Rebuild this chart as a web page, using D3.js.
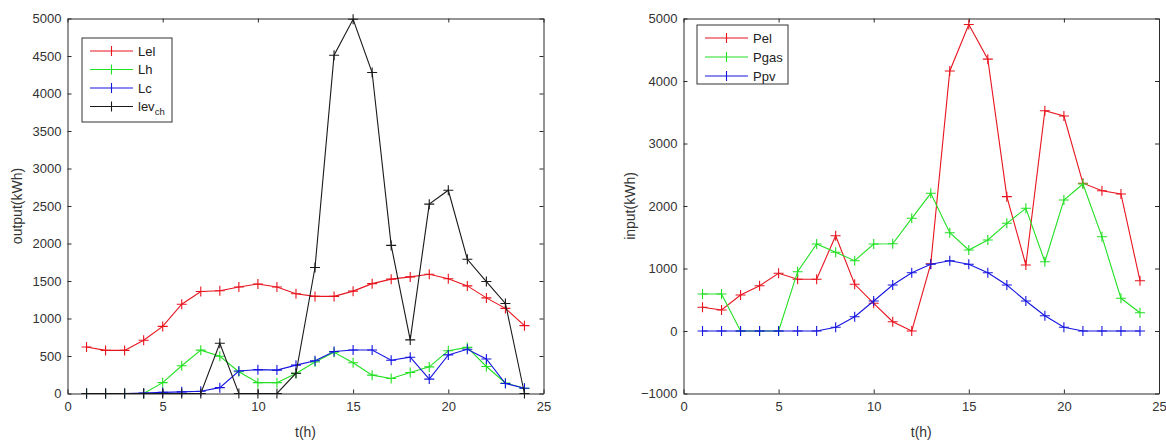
<!DOCTYPE html>
<html>
<head>
<meta charset="utf-8">
<script src="https://cdn.jsdelivr.net/npm/d3@7"></script>
<style>
  body { margin: 0; background: #fff; }
  svg { display: block; font-family: "Liberation Sans", Arial, sans-serif; }
  .axis path, .axis line { stroke: #2b2b2b; }
  .axis text { fill: #333; font-size: 13px; font-family: "Liberation Sans", Arial, sans-serif; }
</style>
</head>
<body>
<svg id="chart" width="1166" height="441"></svg>
<script>
// hours 1..24
var hours = d3.range(1, 25);

// left panel: output
var Lel = [620, 575, 575, 710, 895, 1190, 1360, 1370, 1420, 1460, 1420, 1330,
           1295, 1295, 1365, 1465, 1525, 1555, 1590, 1530, 1435, 1275, 1135, 905];
var Lh = [0, 0, 0, 0, 145, 370, 578, 497, 290, 145, 145, 268,
          420, 550, 410, 245, 200, 280, 355, 570, 615, 360, 140, 70];
var Lc = [0, 0, 0, 5, 15, 22, 30, 78, 300, 318, 312, 378,
          437, 560, 580, 580, 444, 484, 192, 515, 590, 460, 133, 70];
var lev_ch = [0, 0, 0, 0, 0, 0, 0, 670, 0, 0, 0, 270,
              1680, 4510, 4990, 4280, 1975, 715, 2525, 2710, 1790, 1493, 1200, 0];

// right panel: input
var Pel = [380, 336, 576, 725, 923, 827, 827, 1525, 747, 443, 149, 0,
           1075, 4160, 4905, 4350, 2150, 1056, 3525, 3440, 2365, 2245, 2192, 805];
var Pgas = [592, 592, 0, 0, 0, 949, 1392, 1259, 1125, 1392, 1395, 1803,
            2203, 1573, 1296, 1456, 1723, 1963, 1109, 2096, 2352, 1509, 523, 293];
var Ppv = [0, 0, 0, 0, 0, 0, 0, 59, 229, 480, 736, 933,
           1067, 1125, 1067, 933, 736, 480, 245, 59, 0, 0, 0, 0];

var xTicks = [0, 5, 10, 15, 20, 25];
var yTicksLeft = d3.range(0, 5001, 500);
var yTicksRight = [-1000, 0, 1000, 2000, 3000, 4000, 5000];

var colors = { red: "#e8141e", green: "#22e022", blue: "#1515e0", black: "#1a1a1a" };

var svg = d3.select("#chart");
var fmt = d3.format("d");

function panel(opts) {
  var x = d3.scaleLinear().domain([0, 25]).range([opts.left, opts.right]);
  var y = d3.scaleLinear().domain(opts.yDomain).range([393.5, 18.5]);
  var g = svg.append("g");

  // box axes, ticks inward
  g.append("g").attr("class", "axis").attr("transform", "translate(0,393.5)")
    .call(d3.axisBottom(x).tickValues(xTicks).tickFormat(fmt).tickSizeInner(-4).tickSizeOuter(0).tickPadding(8));
  g.append("g").attr("class", "axis").attr("transform", "translate(0,18.5)")
    .call(d3.axisTop(x).tickValues(xTicks).tickSizeInner(-4).tickSizeOuter(0).tickFormat(""));
  g.append("g").attr("class", "axis").attr("transform", "translate(" + opts.left + ",0)")
    .call(d3.axisLeft(y).tickValues(opts.yTicks).tickFormat(fmt).tickSizeInner(-4).tickSizeOuter(0).tickPadding(6));
  g.append("g").attr("class", "axis").attr("transform", "translate(" + opts.right + ",0)")
    .call(d3.axisRight(y).tickValues(opts.yTicks).tickSizeInner(-4).tickSizeOuter(0).tickFormat(""));
  g.selectAll(".axis .domain").attr("stroke-width", 1);

  var line = d3.line().x(function (d, i) { return x(hours[i]); }).y(function (d) { return y(d); });

  opts.series.forEach(function (s) {
    g.append("path").datum(s.values)
      .attr("fill", "none").attr("stroke", s.color).attr("stroke-width", 1.1)
      .attr("d", line);
    g.selectAll(null).data(s.values).enter().append("path")
      .attr("fill", "none").attr("stroke", s.color).attr("stroke-width", 1.1)
      .attr("d", function (d, i) {
        var cx = x(hours[i]), cy = y(d);
        return "M" + (cx - 5) + "," + cy + "H" + (cx + 5) + "M" + cx + "," + (cy - 5) + "V" + (cy + 5);
      });
  });

  // axis labels
  g.append("text").attr("x", (opts.left + opts.right) / 2).attr("y", 437)
    .attr("text-anchor", "middle").attr("font-size", "14px").attr("fill", "#333").text("t(h)");
  g.append("text").attr("transform", "translate(" + opts.yLabelX + ",206) rotate(-90)")
    .attr("text-anchor", "middle").attr("font-size", "14px").attr("fill", "#333").text(opts.yLabel);

  // legend
  var L = opts.legend;
  var lg = g.append("g");
  lg.append("rect").attr("x", L.x).attr("y", L.y).attr("width", L.w).attr("height", L.h)
    .attr("fill", "#fff").attr("stroke", "#333").attr("stroke-width", 1);
  opts.series.forEach(function (s, i) {
    var ly = L.y + 13 + i * L.step;
    lg.append("path").attr("stroke", s.color).attr("stroke-width", 1.1).attr("fill", "none")
      .attr("d", "M" + (L.x + 8) + "," + ly + "H" + (L.x + 51) +
                 "M" + (L.x + 29.5) + "," + (ly - 5) + "V" + (ly + 5));
    var t = lg.append("text").attr("x", L.x + 56).attr("y", ly + 4.5)
      .attr("font-size", "13px").attr("fill", "#222");
    if (s.sub) {
      t.append("tspan").text(s.name);
      t.append("tspan").attr("font-size", "9.5px").attr("dy", 4).text(s.sub);
    } else {
      t.text(s.name);
    }
  });
}

panel({
  left: 67.5, right: 543.5, yDomain: [0, 5000], yTicks: yTicksLeft,
  yLabel: "output(kWh)", yLabelX: 22,
  legend: { x: 82, y: 38, w: 90, h: 84, step: 18.5 },
  series: [
    { name: "Lel", values: Lel, color: colors.red },
    { name: "Lh", values: Lh, color: colors.green },
    { name: "Lc", values: Lc, color: colors.blue },
    { name: "lev", sub: "ch", values: lev_ch, color: colors.black }
  ]
});

panel({
  left: 683.5, right: 1159, yDomain: [-1000, 5000], yTicks: yTicksRight,
  yLabel: "input(kWh)", yLabelX: 635,
  legend: { x: 697, y: 25, w: 91, h: 59, step: 19 },
  series: [
    { name: "Pel", values: Pel, color: colors.red },
    { name: "Pgas", values: Pgas, color: colors.green },
    { name: "Ppv", values: Ppv, color: colors.blue }
  ]
});
</script>
</body>
</html>
